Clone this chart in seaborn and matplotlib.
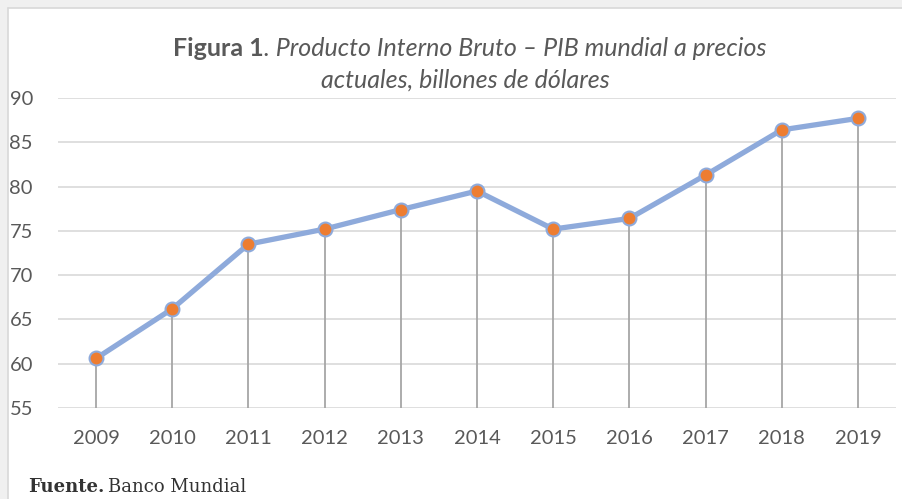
import pandas as pd
import matplotlib.pyplot as plt
import matplotlib.patches as patches
import seaborn as sns

# --- Data: world GDP, current prices (trillions USD) ---
years = ["2009", "2010", "2011", "2012", "2013", "2014", "2015", "2016", "2017", "2018", "2019"]
pib = [60.6, 66.2, 73.5, 75.2, 77.4, 79.5, 75.2, 76.4, 81.3, 86.4, 87.7]
y_ticks = [55, 60, 65, 70, 75, 80, 85, 90]

df = pd.DataFrame({"year": years, "pib": pib})
df["pos"] = range(len(df))

sns.set_style("white")
plt.rcParams["font.family"] = ["Lato", "DejaVu Sans"]

W, H = 903, 499
fig = plt.figure(figsize=(W / 100, H / 100), dpi=100)
fig.patch.set_facecolor("white")

# grey page frame around the chart box
fig.patches.append(patches.Rectangle((0, 0), 7 / W, 1, transform=fig.transFigure, color="#f0f0f0", zorder=0))
fig.patches.append(patches.Rectangle((0, 1 - 7 / H), 1, 7 / H, transform=fig.transFigure, color="#f0f0f0", zorder=0))
fig.add_artist(plt.Line2D([7.5 / W, 7.5 / W], [0, 1 - 7.5 / H], transform=fig.transFigure, color="#d9d9d9", lw=1.2))
fig.add_artist(plt.Line2D([7.5 / W, 1], [1 - 7.5 / H, 1 - 7.5 / H], transform=fig.transFigure, color="#d9d9d9", lw=1.2))

ax = fig.add_axes([58 / W, 1 - 408 / H, (896 - 58) / W, (408 - 98) / H])
ax.set_facecolor("white")

# drop lines from each point to the floor
ax.vlines(df["pos"], 55, df["pib"], color="#a6a6a6", lw=1.3, zorder=2)

sns.lineplot(x="pos", y="pib", data=df, ax=ax, color="#8eaadb", lw=3.8, zorder=3,
             marker="o", markersize=10, markerfacecolor="#ed7d31",
             markeredgecolor="#8eaadb", markeredgewidth=1.5)

ax.set_xlim(-0.5, len(years) - 0.5)
ax.set_ylim(55, 90)
ax.set_yticks(y_ticks)
ax.set_xticks(df["pos"])
ax.set_xticklabels(years)
ax.grid(axis="y", color="#d9d9d9", lw=1.2, zorder=0)
ax.grid(axis="x", visible=False)
ax.set_axisbelow(True)
ax.set_xlabel("")
ax.set_ylabel("")
for s in ax.spines.values():
    s.set_visible(False)
ax.tick_params(axis="y", length=0, pad=18, labelsize=14.5, labelcolor="#595959")
ax.tick_params(axis="x", length=0, pad=16, labelsize=14.5, labelcolor="#595959")

# title: bold "Figura 1" followed by italic text
fig.canvas.draw()
r = fig.canvas.get_renderer()
t1 = fig.text(0, 1 - 48 / H, "Figura 1", fontsize=18, fontweight="bold", color="#595959", va="center")
t2 = fig.text(0, 1 - 48 / H, ". Producto Interno Bruto – PIB mundial a precios", fontsize=18,
              style="italic", color="#595959", va="center")
w1 = t1.get_window_extent(r).width
w2 = t2.get_window_extent(r).width
x0 = 470 - (w1 + w2) / 2
t1.set_x(x0 / W)
t2.set_x((x0 + w1) / W)
fig.text(465 / W, 1 - 80 / H, "actuales, billones de dólares", fontsize=18, style="italic",
         color="#595959", ha="center", va="center")

# source note
f1 = fig.text(28 / W, 1 - 487 / H, "Fuente.", fontsize=13, fontweight="bold", family="DejaVu Serif",
              color="#333333", va="center")
wf = f1.get_window_extent(r).width
fig.text((28 + wf + 4) / W, 1 - 487 / H, "Banco Mundial", fontsize=13, family="DejaVu Serif",
         color="#333333", va="center")

plt.savefig("out.png", dpi=100)
plt.close()
